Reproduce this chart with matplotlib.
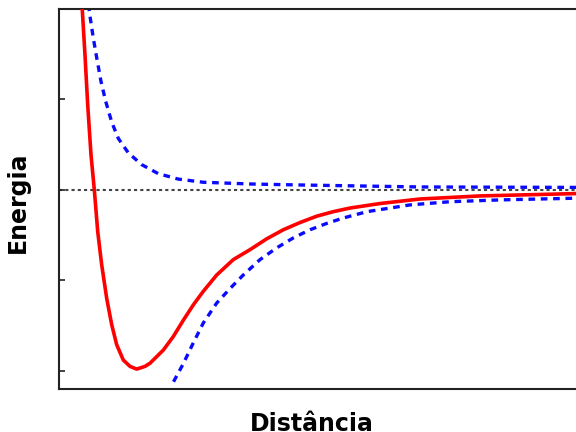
# -*- coding: utf-8 -*-

import matplotlib
matplotlib.use('Agg')
import matplotlib.pyplot as plt

# potential curves (distance, energy) in arbitrary units
dist_bound   = [0.44, 0.447, 0.499, 0.551, 0.614, 0.678, 0.743, 0.820, 0.916, 1.012, 1.107, 1.234,
                1.363, 1.491, 1.651, 1.747, 2.002, 2.194, 2.386, 2.578, 2.770, 3.027, 3.345, 3.666,
                3.987, 4.305, 4.626, 4.946, 5.265, 5.585, 6.161, 6.929, 8.081, 10.0]
energy_bound = [2.10, 1.99, 1.49, 0.94, 0.39, 0.00, -0.46, -0.83, -1.20, -1.49, -1.71, -1.88,
                -1.95, -1.98, -1.95, -1.915, -1.77, -1.62, -1.44, -1.27, -1.12, -0.94, -0.77, -0.66,
                -0.54, -0.44, -0.36, -0.29, -0.24, -0.20, -0.15, -0.10, -0.066, -0.039]

dist_repul   = [0.566, 0.595, 0.658, 0.724, 0.806, 0.896, 1.012, 1.138, 1.330, 1.587, 1.906, 2.290,
                2.770, 3.666, 4.626, 6.929, 10.0]
energy_repul = [2.05, 1.92, 1.68, 1.46, 1.20, 0.98, 0.75, 0.57, 0.41, 0.28, 0.18, 0.12,
                0.085, 0.066, 0.055, 0.033, 0.028]

dist_lower   = [2.198, 2.386, 2.578, 2.770, 3.027, 3.282, 3.537, 3.858, 4.179, 4.497, 4.818, 5.138,
                5.457, 5.912, 6.740, 7.505, 8.464, 10.0]
energy_lower = [-2.12, -1.92, -1.69, -1.47, -1.25, -1.09, -0.94, -0.77, -0.64, -0.53, -0.44, -0.37,
                -0.31, -0.24, -0.165, -0.13, -0.11, -0.09]

yticks = [-2, -1, 0, 1]

fig = plt.figure(figsize=(5.76, 4.32), dpi=100)
ax = fig.add_axes([59/576, 43/432, 521/576, 380/432])

# reference level
ax.axhline(0, color='#444444', linestyle=(0, (1.5, 1.5)), linewidth=1.5, zorder=1)

ax.plot(dist_repul, energy_repul, color='#0a0aff', linewidth=2.4, linestyle=(0, (2.0, 1.7)), zorder=2)
ax.plot(dist_lower, energy_lower, color='#0a0aff', linewidth=2.4, linestyle=(0, (2.0, 1.7)), zorder=2)
ax.plot(dist_bound, energy_bound, color='#ff0000', linewidth=2.6, zorder=3,
        solid_joinstyle='round')

ax.set_xlim(0, 10)
ax.set_ylim(-2.2, 2.0)

ax.set_xticks([])
ax.set_yticks(yticks)
ax.tick_params(axis='y', direction='in', length=4.5, width=1.2, labelleft=False, color='#222222')

for s in ['left', 'top', 'bottom']:
    ax.spines[s].set_linewidth(1.5)
    ax.spines[s].set_color('#222222')
ax.spines['right'].set_visible(False)

ax.set_xlabel('Distância', fontsize=17, fontweight='bold')
ax.xaxis.set_label_coords(0.485, (389 - 431) / 380)
ax.xaxis.label.set_verticalalignment('baseline')

ax.set_ylabel('Energia', fontsize=17, fontweight='bold')
ax.yaxis.set_label_coords(-0.056, 0.492)

fig.savefig('out.png', dpi=100)
